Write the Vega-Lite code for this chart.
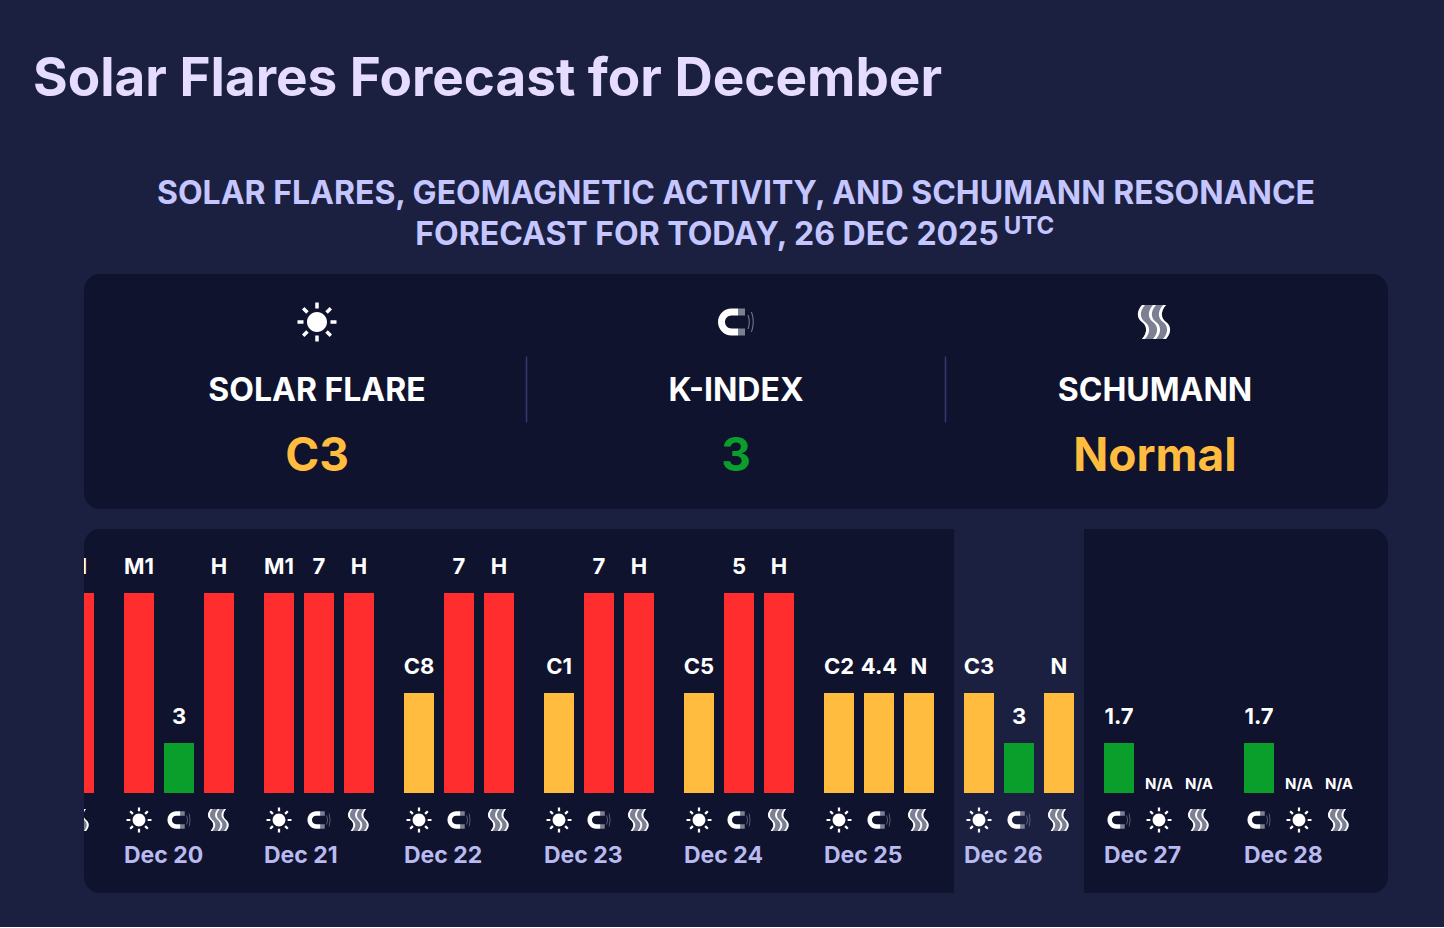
{
  "$schema": "https://vega.github.io/schema/vega-lite/v6.json",
  "background": "#1b2040",
  "padding": {"left": 33, "top": 54, "right": 56, "bottom": 34},
  "title": {"text": "Solar Flares Forecast for December", "anchor": "start", "dx": -51, "offset": 62, "font": "Inter", "fontSize": 53, "fontWeight": 700, "color": "#e6dcff"},
  "config": {"view": {"stroke": null}, "text": {"font": "Inter", "fontWeight": 700}},
  "datasets": {
    "heading": [
      {"line": "a", "text": "SOLAR FLARES, GEOMAGNETIC ACTIVITY, AND SCHUMANN RESONANCE"},
      {"line": "b", "text": "FORECAST FOR TODAY, 26 DEC 2025"},
      {"line": "b", "text": "UTC"}
    ],
    "summary": [
      {"metric": "solar", "name": "SOLAR FLARE", "value": "C3", "status": "moderate"},
      {"metric": "k", "name": "K-INDEX", "value": "3", "status": "low"},
      {"metric": "schumann", "name": "SCHUMANN", "value": "Normal", "status": "moderate"}
    ],
    "bars": [
      {"day": "Dec 19", "pos": 2, "metric": "schumann", "value": "H", "level": 4, "status": "high"},
      {"day": "Dec 20", "pos": 0, "metric": "solar", "value": "M1", "level": 4, "status": "high"},
      {"day": "Dec 20", "pos": 1, "metric": "k", "value": "3", "level": 1, "status": "low"},
      {"day": "Dec 20", "pos": 2, "metric": "schumann", "value": "H", "level": 4, "status": "high"},
      {"day": "Dec 21", "pos": 0, "metric": "solar", "value": "M1", "level": 4, "status": "high"},
      {"day": "Dec 21", "pos": 1, "metric": "k", "value": "7", "level": 4, "status": "high"},
      {"day": "Dec 21", "pos": 2, "metric": "schumann", "value": "H", "level": 4, "status": "high"},
      {"day": "Dec 22", "pos": 0, "metric": "solar", "value": "C8", "level": 2, "status": "moderate"},
      {"day": "Dec 22", "pos": 1, "metric": "k", "value": "7", "level": 4, "status": "high"},
      {"day": "Dec 22", "pos": 2, "metric": "schumann", "value": "H", "level": 4, "status": "high"},
      {"day": "Dec 23", "pos": 0, "metric": "solar", "value": "C1", "level": 2, "status": "moderate"},
      {"day": "Dec 23", "pos": 1, "metric": "k", "value": "7", "level": 4, "status": "high"},
      {"day": "Dec 23", "pos": 2, "metric": "schumann", "value": "H", "level": 4, "status": "high"},
      {"day": "Dec 24", "pos": 0, "metric": "solar", "value": "C5", "level": 2, "status": "moderate"},
      {"day": "Dec 24", "pos": 1, "metric": "k", "value": "5", "level": 4, "status": "high"},
      {"day": "Dec 24", "pos": 2, "metric": "schumann", "value": "H", "level": 4, "status": "high"},
      {"day": "Dec 25", "pos": 0, "metric": "solar", "value": "C2", "level": 2, "status": "moderate"},
      {"day": "Dec 25", "pos": 1, "metric": "k", "value": "4.4", "level": 2, "status": "moderate"},
      {"day": "Dec 25", "pos": 2, "metric": "schumann", "value": "N", "level": 2, "status": "moderate"},
      {"day": "Dec 26", "pos": 0, "metric": "solar", "value": "C3", "level": 2, "status": "moderate"},
      {"day": "Dec 26", "pos": 1, "metric": "k", "value": "3", "level": 1, "status": "low"},
      {"day": "Dec 26", "pos": 2, "metric": "schumann", "value": "N", "level": 2, "status": "moderate"},
      {"day": "Dec 27", "pos": 0, "metric": "k", "value": "1.7", "level": 1, "status": "low"},
      {"day": "Dec 27", "pos": 1, "metric": "solar", "value": "N/A", "level": 0, "status": "none"},
      {"day": "Dec 27", "pos": 2, "metric": "schumann", "value": "N/A", "level": 0, "status": "none"},
      {"day": "Dec 28", "pos": 0, "metric": "k", "value": "1.7", "level": 1, "status": "low"},
      {"day": "Dec 28", "pos": 1, "metric": "solar", "value": "N/A", "level": 0, "status": "none"},
      {"day": "Dec 28", "pos": 2, "metric": "schumann", "value": "N/A", "level": 0, "status": "none"}
    ]
  },
  "spacing": 20,
  "vconcat": [
    {
      "width": 1304,
      "height": 85,
      "data": {"name": "heading"},
      "encoding": {
        "y": {"field": "line", "type": "ordinal", "axis": null, "scale": {"type": "point", "domain": ["a", "b"], "range": [25, 66], "padding": 0}}
      },
      "layer": [
        {
          "transform": [{"filter": "datum.line == 'a'"}],
          "mark": {"type": "text", "fontSize": 32, "color": "#c5c6ff"},
          "encoding": {"text": {"field": "text"}}
        },
        {
          "transform": [{"filter": "datum.text == 'FORECAST FOR TODAY, 26 DEC 2025'"}],
          "mark": {"type": "text", "fontSize": 32, "color": "#c5c6ff", "dx": -29},
          "encoding": {"text": {"field": "text"}}
        },
        {
          "transform": [{"filter": "datum.text == 'UTC'"}],
          "mark": {"type": "text", "fontSize": 24, "color": "#c5c6ff", "dx": 293, "dy": -8},
          "encoding": {"text": {"field": "text"}}
        }
      ]
    },
    {
      "width": 1304,
      "height": 235,
      "view": {"fill": "#0f132e", "cornerRadius": 16, "stroke": null},
      "data": {"name": "summary"},
      "resolve": {"scale": {"shape": "independent"}},
      "encoding": {
        "x": {"field": "metric", "type": "nominal", "axis": null, "sort": null, "scale": {"type": "band", "domain": ["solar", "k", "schumann"], "range": [23.5, 1280.5], "padding": 0}}
      },
      "layer": [
        {
          "transform": [{"filter": "datum.metric != 'solar'"}],
          "mark": {"type": "tick", "orient": "vertical", "size": 66, "thickness": 1.5, "color": "#444c8c"},
          "encoding": {
            "x": {"field": "metric", "type": "nominal", "bandPosition": 0},
            "y": {"datum": "name", "type": "ordinal", "axis": null, "scale": {"type": "point", "domain": ["icon", "name", "value"], "range": [48, 183], "padding": 0}}
          }
        },
        {
          "transform": [{"filter": "datum.metric != 'solar'"}],
          "mark": {"type": "point", "filled": true, "size": 4, "opacity": 1, "color": "#7d8093"},
          "encoding": {
            "y": {"datum": "icon", "type": "ordinal"},
            "shape": {"field": "metric", "type": "nominal", "legend": null, "scale": {"domain": ["k", "schumann"], "range": [
              "M2 -13.5H9V-6.5H2ZM2 6.5H9V13.5H2ZM11.5 -7Q14 0 11.5 7L12.5 7Q15 0 12.5 -7ZM15 -10Q18.5 0 15 10L16 10Q19.5 0 16 -10Z",
              "M-13 -17C-19 -10 -18 -4 -13 0C-8 4 -7 10 -13 17L11 17C17 10 16 4 11 0C6 -4 5 -10 11 -17Z"
            ]}}
          }
        },
        {
          "mark": {"type": "point", "filled": true, "size": 4, "opacity": 1, "color": "#ffffff"},
          "encoding": {
            "y": {"datum": "icon", "type": "ordinal"},
            "shape": {"field": "metric", "type": "nominal", "legend": null, "scale": {"domain": ["solar", "k", "schumann"], "range": [
              "M-10 0A10 10 0 1 0 10 0A10 10 0 1 0 -10 0ZM-1.75 -19.5H1.75V-13.5H-1.75ZM-1.75 13.5H1.75V19.5H-1.75ZM-19.5 -1.75H-13.5V1.75H-19.5ZM13.5 -1.75H19.5V1.75H13.5ZM8.3 -10.8L10.8 -8.3L15 -12.6L12.6 -15ZM-8.3 -10.8L-10.8 -8.3L-15 -12.6L-12.6 -15ZM8.3 10.8L10.8 8.3L15 12.6L12.6 15ZM-8.3 10.8L-10.8 8.3L-15 12.6L-12.6 15Z",
              "M2 -13.5H-4.5A13.5 13.5 0 0 0 -4.5 13.5H2V6.5H-4.5A6.5 6.5 0 0 1 -4.5 -6.5H2Z",
              "M-13 -17C-19 -10 -18 -4 -13 0C-8 4 -7 10 -13 17L-10 17C-4 10 -5 4 -10 0C-15 -4 -16 -10 -10 -17ZM-2 -17C-8 -10 -7 -4 -2 0C3 4 4 10 -2 17L1 17C7 10 6 4 1 0C-4 -4 -5 -10 1 -17ZM8 -17C2 -10 3 -4 8 0C13 4 14 10 8 17L11 17C17 10 16 4 11 0C6 -4 5 -10 11 -17Z"
            ]}}
          }
        },
        {
          "mark": {"type": "text", "fontSize": 32, "color": "#ffffff", "dy": 1.5},
          "encoding": {
            "y": {"datum": "name", "type": "ordinal"},
            "text": {"field": "name"}
          }
        },
        {
          "mark": {"type": "text", "fontSize": 46},
          "encoding": {
            "y": {"datum": "value", "type": "ordinal"},
            "text": {"field": "value"},
            "color": {"field": "status", "type": "nominal", "legend": null, "scale": {"domain": ["low", "moderate", "high"], "range": ["#0a9e2a", "#ffbc3e", "#ff2d2d"]}}
          }
        }
      ]
    },
    {
      "width": 1304,
      "height": 364,
      "view": {"fill": "#0f132e", "cornerRadius": 16, "stroke": null},
      "data": {"name": "bars"},
      "resolve": {"scale": {"shape": "independent"}},
      "encoding": {
        "x": {"field": "day", "type": "ordinal", "axis": null, "scale": {"type": "band", "domain": ["Dec 19", "Dec 20", "Dec 21", "Dec 22", "Dec 23", "Dec 24", "Dec 25", "Dec 26", "Dec 27", "Dec 28"], "range": [-115, 1285], "padding": 0}}
      },
      "layer": [
        {
          "transform": [{"filter": "datum.day == 'Dec 26' && datum.pos == 0"}],
          "mark": {"type": "rect", "width": 130, "color": "#1b2040"}
        },
        {
          "mark": {"type": "bar", "clip": true},
          "encoding": {
            "xOffset": {"field": "pos", "type": "ordinal", "scale": {"domain": [0, 1, 2], "range": [15, 125], "paddingInner": 0.25, "paddingOuter": 0}},
            "y": {"field": "level", "type": "quantitative", "axis": null, "scale": {"domain": [-2, 5.28], "nice": false, "zero": false}},
            "color": {"field": "status", "type": "nominal", "legend": null, "scale": {"domain": ["low", "moderate", "high"], "range": ["#0a9e2a", "#ffbc3e", "#ff2d2d"]}}
          }
        },
        {
          "transform": [{"filter": "datum.level > 0"}],
          "mark": {"type": "text", "clip": true, "fontSize": 22, "color": "#ffffff", "dy": -26},
          "encoding": {
            "xOffset": {"field": "pos", "type": "ordinal"},
            "y": {"field": "level", "type": "quantitative"},
            "text": {"field": "value"}
          }
        },
        {
          "transform": [{"filter": "datum.level == 0"}],
          "mark": {"type": "text", "clip": true, "fontSize": 15, "color": "#ffffff", "dy": -9},
          "encoding": {
            "xOffset": {"field": "pos", "type": "ordinal"},
            "y": {"field": "level", "type": "quantitative"},
            "text": {"field": "value"}
          }
        },
        {
          "transform": [{"filter": "datum.metric != 'solar'"}],
          "mark": {"type": "point", "clip": true, "filled": true, "size": 1.64, "opacity": 1, "color": "#7d8093", "yOffset": 27},
          "encoding": {
            "xOffset": {"field": "pos", "type": "ordinal"},
            "y": {"datum": 0},
            "shape": {"field": "metric", "type": "nominal", "legend": null, "scale": {"domain": ["k", "schumann"], "range": [
              "M2 -13.5H9V-6.5H2ZM2 6.5H9V13.5H2ZM11.5 -7Q14 0 11.5 7L12.5 7Q15 0 12.5 -7ZM15 -10Q18.5 0 15 10L16 10Q19.5 0 16 -10Z",
              "M-13 -17C-19 -10 -18 -4 -13 0C-8 4 -7 10 -13 17L11 17C17 10 16 4 11 0C6 -4 5 -10 11 -17Z"
            ]}}
          }
        },
        {
          "mark": {"type": "point", "clip": true, "filled": true, "size": 1.64, "opacity": 1, "color": "#ffffff", "yOffset": 27},
          "encoding": {
            "xOffset": {"field": "pos", "type": "ordinal"},
            "y": {"datum": 0},
            "shape": {"field": "metric", "type": "nominal", "legend": null, "scale": {"domain": ["solar", "k", "schumann"], "range": [
              "M-10 0A10 10 0 1 0 10 0A10 10 0 1 0 -10 0ZM-1.75 -19.5H1.75V-13.5H-1.75ZM-1.75 13.5H1.75V19.5H-1.75ZM-19.5 -1.75H-13.5V1.75H-19.5ZM13.5 -1.75H19.5V1.75H13.5ZM8.3 -10.8L10.8 -8.3L15 -12.6L12.6 -15ZM-8.3 -10.8L-10.8 -8.3L-15 -12.6L-12.6 -15ZM8.3 10.8L10.8 8.3L15 12.6L12.6 15ZM-8.3 10.8L-10.8 8.3L-15 12.6L-12.6 15Z",
              "M2 -13.5H-4.5A13.5 13.5 0 0 0 -4.5 13.5H2V6.5H-4.5A6.5 6.5 0 0 1 -4.5 -6.5H2Z",
              "M-13 -17C-19 -10 -18 -4 -13 0C-8 4 -7 10 -13 17L-10 17C-4 10 -5 4 -10 0C-15 -4 -16 -10 -10 -17ZM-2 -17C-8 -10 -7 -4 -2 0C3 4 4 10 -2 17L1 17C7 10 6 4 1 0C-4 -4 -5 -10 1 -17ZM8 -17C2 -10 3 -4 8 0C13 4 14 10 8 17L11 17C17 10 16 4 11 0C6 -4 5 -10 11 -17Z"
            ]}}
          }
        },
        {
          "transform": [{"filter": "datum.pos == 0"}],
          "mark": {"type": "text", "align": "left", "fontSize": 23, "color": "#b9baf0", "dx": 15, "dy": 63},
          "encoding": {
            "x": {"field": "day", "type": "ordinal", "bandPosition": 0},
            "y": {"datum": 0},
            "text": {"field": "day"}
          }
        }
      ]
    }
  ]
}
